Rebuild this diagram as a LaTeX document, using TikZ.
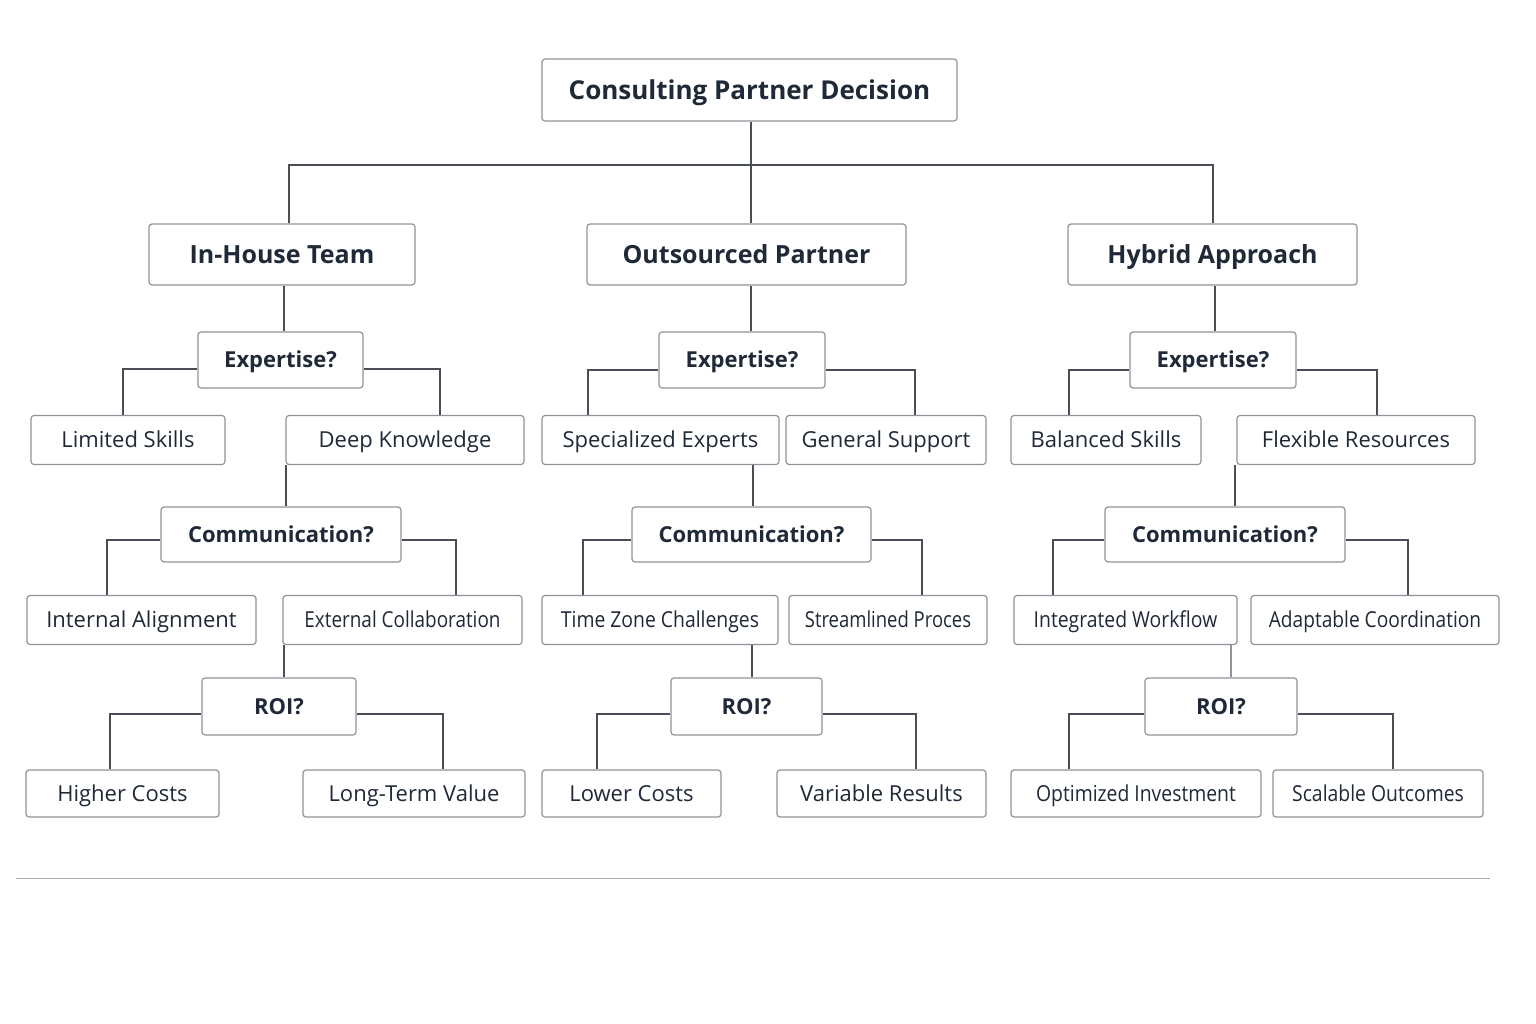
\documentclass[tikz,border=0pt]{standalone}
\usepackage{fontspec}
\setmainfont{Open Sans}
\begin{document}
\begin{tikzpicture}[x=1pt,y=-1pt,
 box/.style={draw=boxc,line width=1.2pt,rounded corners=3pt,fill=white,inner sep=0pt,text=txt,text depth=0pt},
 leaf/.style={box,minimum height=49pt,text height=15.5pt,font=\fontsize{22}{26}\selectfont},
 q/.style={box,minimum height=56pt,text height=15.5pt,font=\fontsize{22}{26}\selectfont\bfseries},
 cat/.style={box,minimum height=61pt,text height=17.5pt,font=\fontsize{25}{30}\selectfont\bfseries},
 conn/.style={draw=linec,line width=1.2pt}]
\definecolor{boxc}{HTML}{8E949C}
\definecolor{linec}{HTML}{4A4F57}
\definecolor{txt}{HTML}{1F2937}
\useasboundingbox (0,0) rectangle (1536,1024);
\fill[white] (0,0) rectangle (1536,1024);
% nodes
\node[cat,minimum width=415pt,minimum height=62pt,text height=18.5pt,font=\fontsize{26}{31}\selectfont\bfseries] (t) at (749.5,90) {Consulting Partner Decision};
\node[cat,minimum width=266pt] (ih) at (282,254.5) {In-House Team};
\node[cat,minimum width=319pt] (os) at (746.5,254.5) {Outsourced Partner};
\node[cat,minimum width=289pt] (hy) at (1212.5,254.5) {Hybrid Approach};
\node[q,minimum width=165pt] (e1) at (280.5,360) {Expertise?};
\node[q,minimum width=166pt] (e2) at (742,360) {Expertise?};
\node[q,minimum width=166pt] (e3) at (1213,360) {Expertise?};
\node[leaf,minimum width=194pt] (a1) at (128,440) {Limited Skills};
\node[leaf,minimum width=238pt] (a2) at (405,440) {Deep Knowledge};
\node[leaf,minimum width=237pt] (a3) at (660.5,440) {Specialized Experts};
\node[leaf,minimum width=200pt] (a4) at (886,440) {General Support};
\node[leaf,minimum width=190pt] (a5) at (1106,440) {Balanced Skills};
\node[leaf,minimum width=238pt] (a6) at (1356,440) {Flexible Resources};
\node[q,minimum width=240pt,minimum height=55pt] (c1) at (281,534.5) {Communication?};
\node[q,minimum width=239pt,minimum height=55pt] (c2) at (751.5,534.5) {Communication?};
\node[q,minimum width=240pt,minimum height=55pt] (c3) at (1225,534.5) {Communication?};
\node[leaf,minimum width=229pt] (b1) at (141.5,620) {Internal Alignment};
\node[leaf,minimum width=239pt] (b2) at (402.5,620) {\addfontfeature{FakeStretch=0.86}External Collaboration};
\node[leaf,minimum width=236pt] (b3) at (660,620) {\addfontfeature{FakeStretch=0.88}Time Zone Challenges};
\node[leaf,minimum width=198pt] (b4) at (888,620) {\addfontfeature{FakeStretch=0.84}Streamlined Proces};
\node[leaf,minimum width=223pt] (b5) at (1125.5,620) {\addfontfeature{FakeStretch=0.88}Integrated Workflow};
\node[leaf,minimum width=248pt] (b6) at (1375,620) {\addfontfeature{FakeStretch=0.87}Adaptable Coordination};
\node[q,minimum width=154pt,minimum height=57pt] (r1) at (279,706.5) {ROI?};
\node[q,minimum width=151pt,minimum height=57pt] (r2) at (746.5,706.5) {ROI?};
\node[q,minimum width=152pt,minimum height=57pt] (r3) at (1221,706.5) {ROI?};
\node[leaf,minimum width=193pt,minimum height=47pt] (d1) at (122.5,793.5) {Higher Costs};
\node[leaf,minimum width=222pt,minimum height=47pt] (d2) at (414,793.5) {Long-Term Value};
\node[leaf,minimum width=179pt,minimum height=47pt] (d3) at (631.5,793.5) {Lower Costs};
\node[leaf,minimum width=209pt,minimum height=47pt] (d4) at (881.5,793.5) {Variable Results};
\node[leaf,minimum width=250pt,minimum height=47pt] (d5) at (1136,793.5) {\addfontfeature{FakeStretch=0.88}Optimized Investment};
\node[leaf,minimum width=210pt,minimum height=47pt] (d6) at (1378,793.5) {\addfontfeature{FakeStretch=0.88}Scalable Outcomes};
% connectors
\draw[conn] (t.south -| 751,0) -- (os.north -| 751,0);
\draw[conn] (ih.north -| 289,0) |- (751,165) -| (hy.north -| 1213,0);
\draw[conn] (ih.south -| 284,0) -- (e1.north -| 284,0);
\draw[conn] (os.south -| 751,0) -- (e2.north -| 751,0);
\draw[conn] (hy.south -| 1215,0) -- (e3.north -| 1215,0);
\draw[conn] (e1.west |- 0,369) -| (a1.north -| 123,0);
\draw[conn] (e1.east |- 0,369) -| (a2.north -| 440,0);
\draw[conn] (e2.west |- 0,370) -| (a3.north -| 588,0);
\draw[conn] (e2.east |- 0,370) -| (a4.north -| 915,0);
\draw[conn] (e3.west |- 0,370) -| (a5.north -| 1069,0);
\draw[conn] (e3.east |- 0,370) -| (a6.north -| 1377,0);
\draw[conn] (a2.south -| 286,0) -- (c1.north -| 286,0);
\draw[conn] (a3.south -| 753,0) -- (c2.north -| 753,0);
\draw[conn] (a6.south -| 1235,0) -- (c3.north -| 1235,0);
\draw[conn] (c1.west |- 0,540) -| (b1.north -| 107,0);
\draw[conn] (c1.east |- 0,540) -| (b2.north -| 456,0);
\draw[conn] (c2.west |- 0,540) -| (b3.north -| 583,0);
\draw[conn] (c2.east |- 0,540) -| (b4.north -| 922,0);
\draw[conn] (c3.west |- 0,540) -| (b5.north -| 1053,0);
\draw[conn] (c3.east |- 0,540) -| (b6.north -| 1408,0);
\draw[conn] (b2.south -| 284,0) -- (r1.north -| 284,0);
\draw[conn] (b3.south -| 752,0) -- (r2.north -| 752,0);
\draw[conn,draw=boxc] (b5.south -| 1231,0) -- (r3.north -| 1231,0);
\draw[conn] (r1.west |- 0,714) -| (d1.north -| 110,0);
\draw[conn] (r1.east |- 0,714) -| (d2.north -| 443,0);
\draw[conn] (r2.west |- 0,714) -| (d3.north -| 597,0);
\draw[conn] (r2.east |- 0,714) -| (d4.north -| 916,0);
\draw[conn] (r3.west |- 0,714) -| (d5.north -| 1069,0);
\draw[conn] (r3.east |- 0,714) -| (d6.north -| 1393,0);
\coordinate (l1) at (16,878); \coordinate (l2) at (1490,878);
\draw[draw=boxc!80,line width=1pt] (l1) -- (l2);
\end{tikzpicture}
\end{document}
